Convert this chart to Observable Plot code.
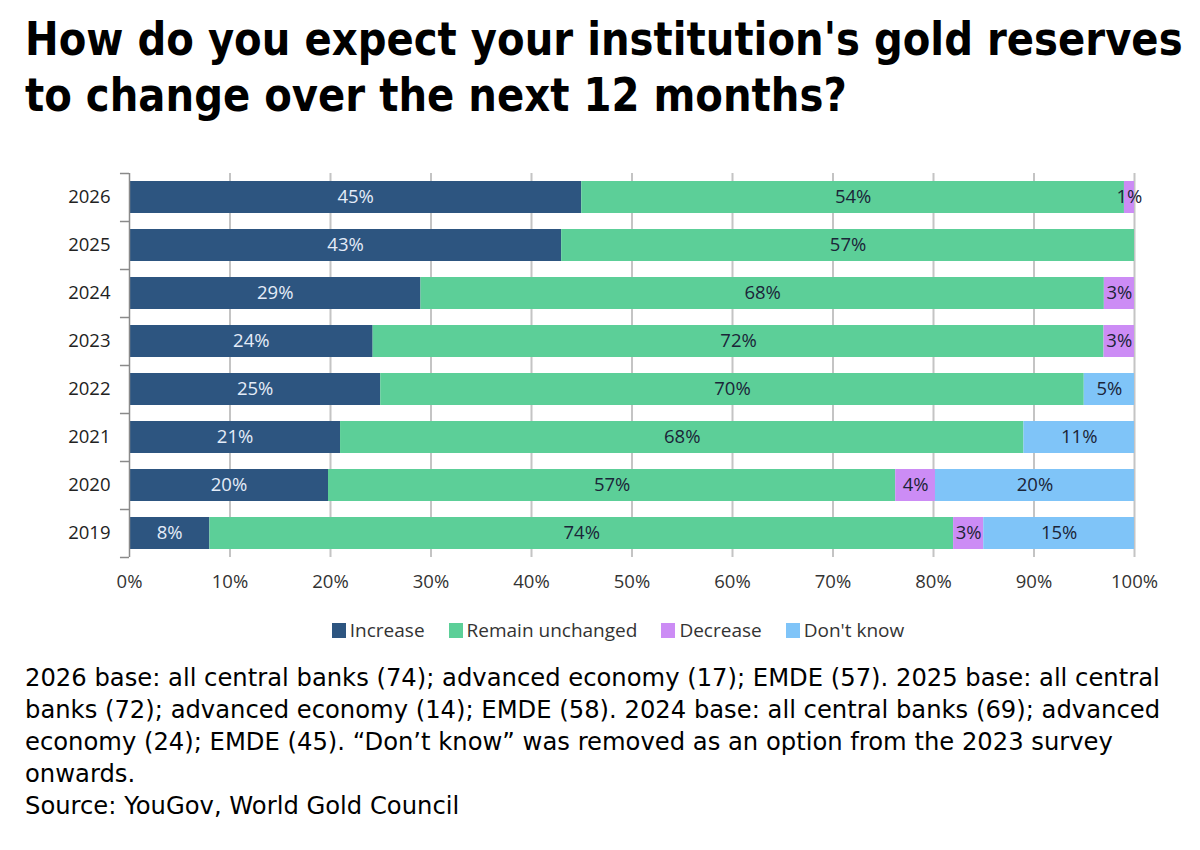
<!DOCTYPE html>
<html>
<head>
<meta charset="utf-8">
<script src="https://cdn.jsdelivr.net/npm/d3@7"></script>
<script src="https://cdn.jsdelivr.net/npm/@observablehq/plot@0.6"></script>
<style>
  html, body { margin: 0; padding: 0; background: #fff; }
  body { width: 1200px; height: 850px; position: relative; overflow: hidden; }
  #title { position: absolute; left: 25px; top: 11px; font-family: "DejaVu Sans", sans-serif; font-weight: bold; font-size: 47px; line-height: 56px; color: #000; white-space: nowrap; transform-origin: 0 0; }
  #chart { position: absolute; left: 0; top: 150px; }
  #legend { position: absolute; left: 0; width: 1236px; top: 617px; text-align: center; font-family: "Open Sans", sans-serif; font-size: 19px; color: #333; white-space: nowrap; }
  #legend span.item { display: inline-block; margin: 0 12px; }
  #legend span.sw { display: inline-block; width: 14px; height: 15px; margin-right: 4px; vertical-align: -1px; }
  #caption { position: absolute; left: 25px; top: 662px; font-family: "DejaVu Sans", sans-serif; font-size: 24.5px; line-height: 32px; color: #000; white-space: nowrap; transform-origin: 0 0; }
</style>
</head>
<body>
<div id="title"></div>
<div id="chart"></div>
<div id="legend"></div>
<div id="caption"></div>
<script>
const titleLines = ["How do you expect your institution's gold reserves", "to change over the next 12 months?"];
const captionLines = [
  "2026 base: all central banks (74); advanced economy (17); EMDE (57). 2025 base: all central",
  "banks (72); advanced economy (14); EMDE (58). 2024 base: all central banks (69); advanced",
  "economy (24); EMDE (45). \u201CDon\u2019t know\u201D was removed as an option from the 2023 survey",
  "onwards.",
  "Source: YouGov, World Gold Council"
];

const years = ["2026", "2025", "2024", "2023", "2022", "2021", "2020", "2019"];
const categories = ["Increase", "Remain unchanged", "Decrease", "Don't know"];
const colors = ["#2d5580", "#5ccf98", "#cc8cf5", "#7fc4f8"];
const increase = [45, 43, 29, 24, 25, 21, 20, 8];
const remain = [54, 57, 68, 72, 70, 68, 57, 74];
const decrease = [1, 0, 3, 3, 0, 0, 4, 3];
const dontKnow = [0, 0, 0, 0, 5, 11, 20, 15];
const xTicks = [0, 0.1, 0.2, 0.3, 0.4, 0.5, 0.6, 0.7, 0.8, 0.9, 1];
const xTickLabels = ["0%", "10%", "20%", "30%", "40%", "50%", "60%", "70%", "80%", "90%", "100%"];

function fitWidth(el, target) {
  el.style.display = "inline-block";
  const w = el.scrollWidth;
  if (w > 0) el.style.transform = `scaleX(${target / w})`;
}

const titleEl = document.getElementById("title");
titleEl.innerHTML = titleLines.join("<br>");
const captionEl = document.getElementById("caption");
captionEl.innerHTML = captionLines.join("<br>");

const series = [increase, remain, decrease, dontKnow];
const data = [];
years.forEach((y, i) => {
  categories.forEach((c, j) => {
    const v = series[j][i];
    if (v > 0) data.push({ year: y, cat: c, value: v });
  });
});

const stackOpts = (extra) => Plot.stackX({ offset: "normalize", order: categories, x: "value", y: "year", z: "cat", ...extra });

const chart = Plot.plot({
  width: 1200,
  height: 447,
  marginLeft: 129,
  marginRight: 66,
  marginTop: 23,
  marginBottom: 40,
  style: { fontFamily: "Open Sans, sans-serif", background: "white" },
  x: { domain: [0, 1] },
  y: { domain: years, paddingInner: 0.33, paddingOuter: 0.165 },
  color: { domain: categories, range: colors },
  marks: [
    Plot.ruleX(xTicks.slice(1), { stroke: "#c4c4c4", strokeWidth: 2 }),
    Plot.barX(data, stackOpts({ fill: "cat" })),
    Plot.text(data, stackOpts({ text: d => d.cat === "Increase" ? d.value + "%" : null, fill: "#e4ecf8", fontSize: 18.5 })),
    Plot.text(data, stackOpts({ text: d => d.cat !== "Increase" ? d.value + "%" : null, fill: "#1b2538", fontSize: 18.5 })),
    Plot.ruleX([0], { stroke: "#8a8a8a", strokeWidth: 1.5 }),
    Plot.ruleY(years, { y: d => d, x1: -0.009, x2: 0, dy: -24, stroke: "#8a8a8a", strokeWidth: 1.5 }),
    Plot.ruleY([years[years.length - 1]], { y: d => d, x1: -0.009, x2: 0, dy: 24, stroke: "#8a8a8a", strokeWidth: 1.5 }),
    Plot.axisY({ tickSize: 0, tickPadding: 19, fontSize: 18.5, fill: "#222", label: null }),
    Plot.axisX({ ticks: xTicks, tickFormat: (d, i) => xTickLabels[i], tickSize: 0, tickPadding: 17, fontSize: 18.5, fill: "#333", label: null })
  ]
});
document.getElementById("chart").appendChild(chart);

const legend = document.getElementById("legend");
categories.forEach((c, i) => {
  const item = document.createElement("span");
  item.className = "item";
  item.innerHTML = `<span class="sw" style="background:${colors[i]}"></span>${c}`;
  legend.appendChild(item);
});

fitWidth(titleEl, 1158);
fitWidth(captionEl, 1135);
</script>
</body>
</html>
